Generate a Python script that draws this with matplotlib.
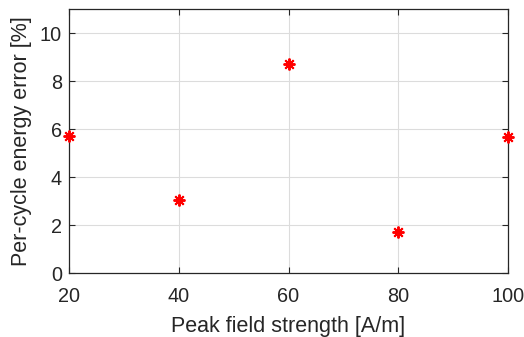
import matplotlib.pyplot as plt

# Per-cycle energy error vs peak field strength
field_strength = [20, 40, 60, 80, 100]
energy_error = [5.73, 3.05, 8.72, 1.72, 5.70]

x_ticks = [20, 40, 60, 80, 100]
y_ticks = [0, 2, 4, 6, 8, 10]

plt.rcParams['font.family'] = ['Liberation Sans', 'DejaVu Sans']

fig = plt.figure(figsize=(5.24, 3.37), dpi=100)
ax = fig.add_axes([69 / 524, 1 - 273.3 / 337, (508 - 69) / 524, (273.3 - 9.3) / 337])

ax.plot(field_strength, energy_error, linestyle='none', marker=(8, 2, 0),
        markersize=8.5, markeredgewidth=1.4, color='red', clip_on=False, zorder=3)

ax.set_xlim(20, 100)
ax.set_ylim(0, 11)
ax.set_xticks(x_ticks)
ax.set_yticks(y_ticks)

ax.grid(True, color='#dcdcdc', linewidth=0.8)
ax.set_axisbelow(True)

for side in ax.spines.values():
    side.set_color('#262626')
    side.set_linewidth(0.9)

ax.tick_params(direction='in', length=4, width=0.8, colors='#262626',
               labelsize=14.3, top=True, right=True, pad=5)
ax.tick_params(axis='x', pad=10)
for lbl in ax.get_xticklabels() + ax.get_yticklabels():
    lbl.set_color('#262626')

ax.set_xlabel('Peak field strength [A/m]', fontsize=15.5, color='#262626', labelpad=7)
ax.set_ylabel('Per-cycle energy error [%]', fontsize=15.5, color='#262626', labelpad=6)

fig.savefig('out.png', dpi=100)
